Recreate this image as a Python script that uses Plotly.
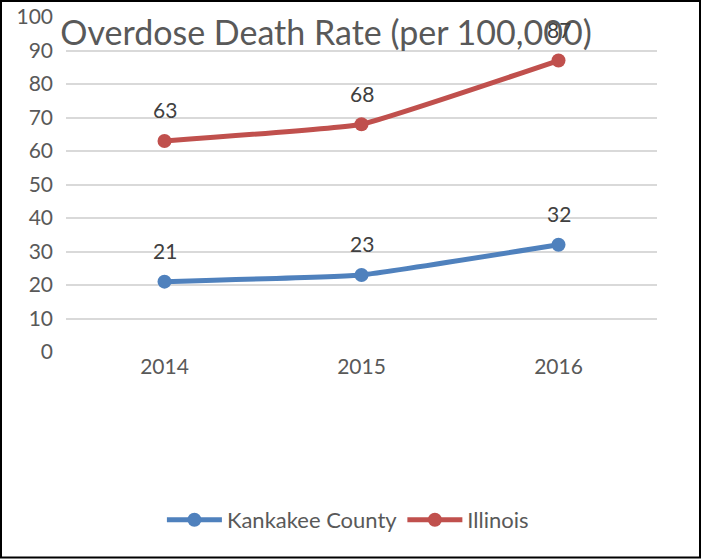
import plotly.graph_objects as go

years = ["2014", "2015", "2016"]
kankakee = [21, 23, 32]
illinois = [63, 68, 87]
y_ticks = list(range(0, 101, 10))

BLUE = "#4F81BD"
RED = "#C0504D"
GRAY = "#595959"
FONT = "Lato"

W, H = 702, 559
L, R, T, B = 66, 45, 17, 207
pw, ph = W - L - R, H - T - B

fig = go.Figure()
fig.add_trace(go.Scatter(x=years, y=kankakee, name="Kankakee County", mode="lines+markers",
                         line=dict(color=BLUE, width=5, shape="spline", smoothing=0.3),
                         marker=dict(size=14, color=BLUE)))
fig.add_trace(go.Scatter(x=years, y=illinois, name="Illinois", mode="lines+markers",
                         line=dict(color=RED, width=5, shape="spline", smoothing=0.3),
                         marker=dict(size=14, color=RED)))

for series in (kankakee, illinois):
    for i, yv in enumerate(series):
        fig.add_annotation(x=i, y=yv, xref="x", yref="y", text=str(yv), showarrow=False, yshift=31,
                           font=dict(family=FONT, size=21, color="#404040"))

# outer frame
def px_x(p):
    return (p - L) / pw
def px_y(p):
    return (H - B - p) / ph
fig.add_shape(type="rect", xref="paper", yref="paper",
              x0=px_x(1), x1=px_x(700), y0=px_y(557.5), y1=px_y(1),
              line=dict(color="#000000", width=2), layer="below")

fig.update_layout(
    width=W, height=H,
    margin=dict(l=L, r=R, t=T, b=B, autoexpand=False),
    paper_bgcolor="white", plot_bgcolor="white",
    title=dict(text="Overdose Death Rate (per 100,000)", xref="container", yref="container",
               x=326 / W, xanchor="center", y=1 - 33 / H, yanchor="middle",
               font=dict(family=FONT, size=34, color=GRAY)),
    xaxis=dict(type="category", range=[-0.5, 2.5], showgrid=False, showline=False, ticks="",
               tickfont=dict(family=FONT, size=21, color=GRAY)),
    yaxis=dict(range=[0, 100], tickvals=y_ticks, showgrid=True, gridcolor="#D9D9D9", gridwidth=1.5,
               zeroline=False, showline=False, ticks="", ticklabelstandoff=12,
               tickfont=dict(family=FONT, size=21, color=GRAY)),
    showlegend=True,
    legend=dict(orientation="h", x=0.477, xanchor="center", y=px_y(520), yanchor="middle",
                font=dict(family=FONT, size=22, color=GRAY), itemwidth=55),
)

fig.write_html("out.html", config={"displayModeBar": False},
               post_script="document.body.style.margin='0';document.body.style.overflow='hidden';")
